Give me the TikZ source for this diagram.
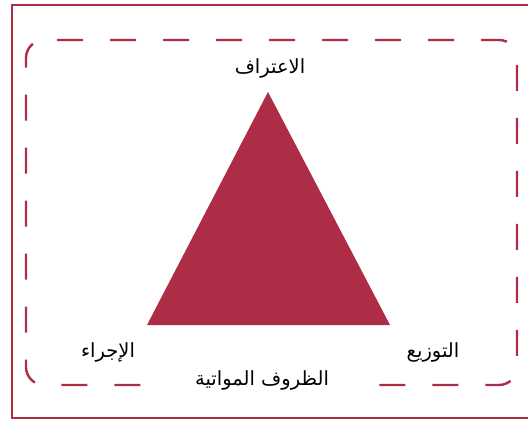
\documentclass[tikz,border=0pt]{standalone}
\usepackage{fontspec}
\newfontfamily\arabicfont[Script=Arabic]{DejaVu Sans}
\TeXXeTstate=1
\usetikzlibrary{positioning}
\definecolor{crim}{RGB}{174,45,70}

\begin{document}
\begin{tikzpicture}[
    x=1pt, y=-1pt,
    frame/.style={draw=crim, line width=1.6pt},
    dashbox/.style={draw=crim, line width=2.4pt, dash pattern=on 26pt off 27pt, rounded corners=18pt},
    tri/.style={fill=crim, draw=none},
    lbl/.style={font=\arabicfont\fontsize{19.5}{22}\selectfont, inner sep=0pt},
  ]
    \useasboundingbox (0,0) rectangle (528,421);
    % ===== 外枠 =====
    \begin{scope}
      \clip (0,0) rectangle (528,421);
      \draw[frame] (12,5) rectangle (540,418);
      \draw[crim, line width=2.6pt] (12,5) -- (12,418) -- (540,418);
    \end{scope}
    % ===== 破線の角丸枠 =====
    \draw[dashbox] (57,40) -- (517,40) -- (517,385) -- (26,385) -- (26,40) -- (57,40);
    % ===== 三角形 =====
    \coordinate (top) at (268,92);
    \coordinate (bl)  at (147,325);
    \coordinate (brr) at (390,325);
    \fill[tri] (top) -- (bl) -- (brr) -- cycle;
    % ===== ラベル =====
    \node[lbl] (recog) at (270,68)  {\beginR الاعتراف\endR};
    \node[lbl] (proc)  at (108,352) {\beginR الإجراء\endR};
    \node[lbl] (dist)  at (433,352) {\beginR التوزيع\endR};
    \node[lbl, fill=white, inner xsep=28pt, inner ysep=2pt] (cond) at (262,380) {\beginR الظروف المواتية\endR};
  \end{tikzpicture}
\end{document}
